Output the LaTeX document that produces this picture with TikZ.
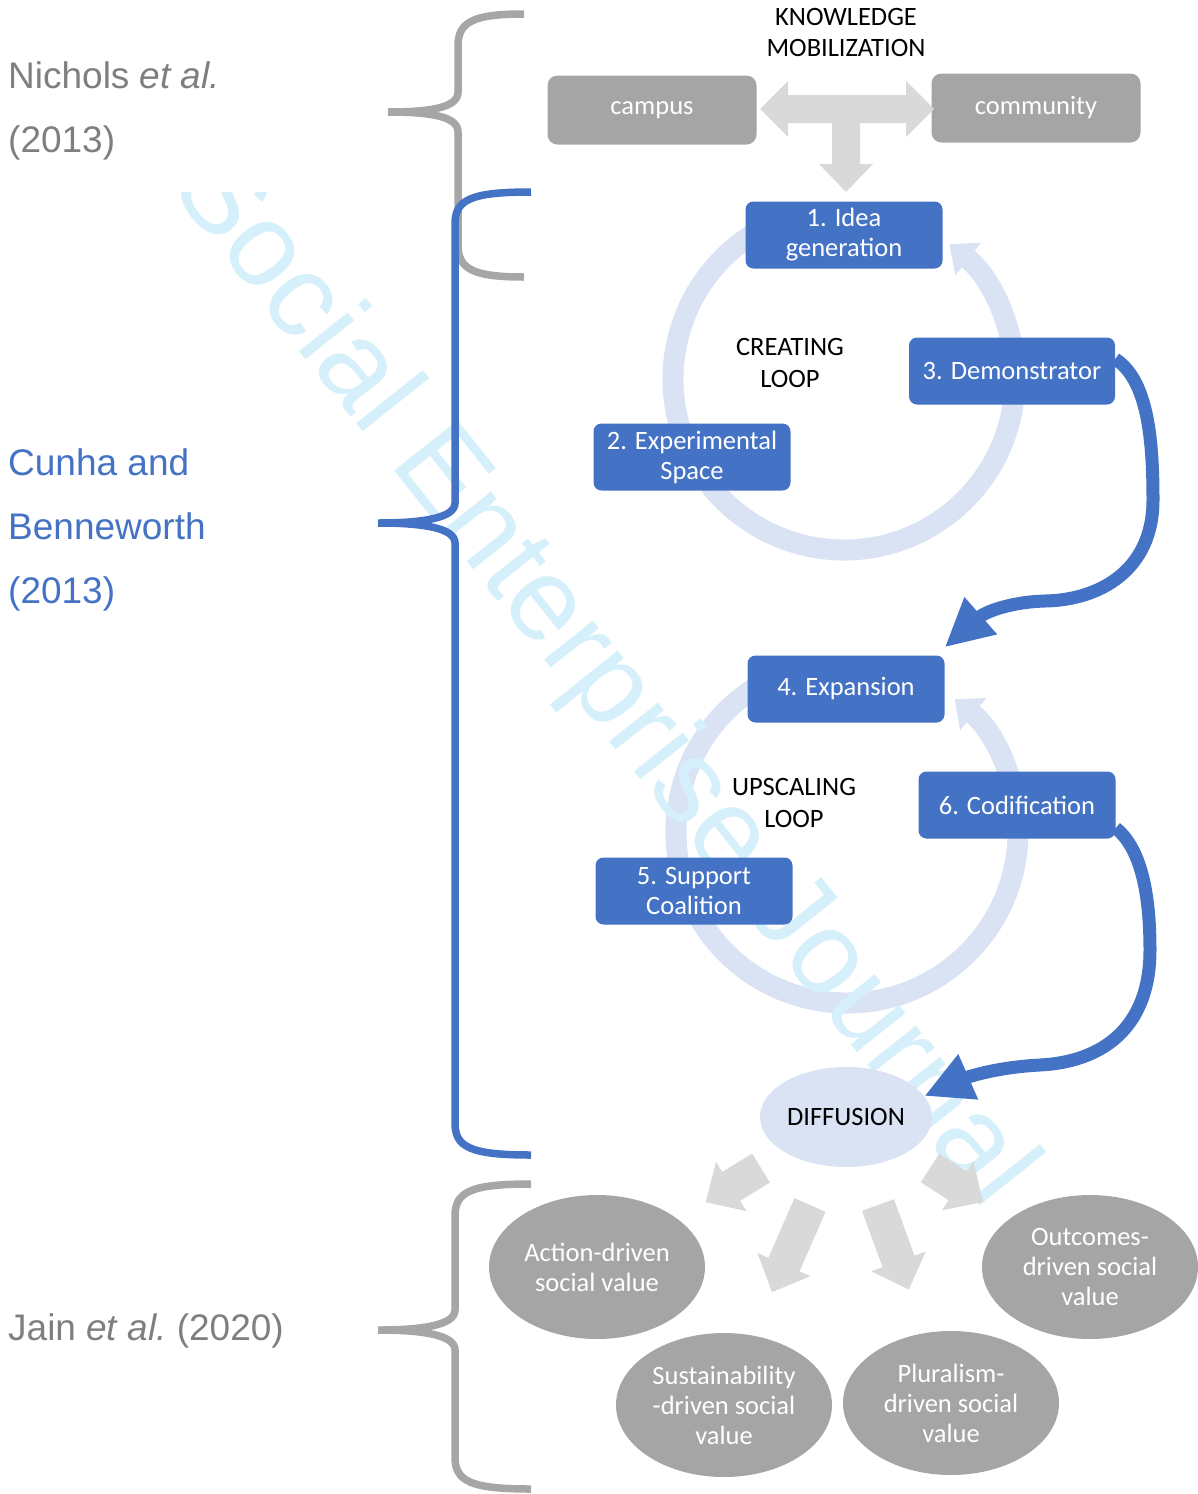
\documentclass[tikz,border=0pt]{standalone}
\usepackage{fontspec}
\setmainfont{Carlito}
\newfontfamily\arialfont{Liberation Sans}
\usepackage{xcolor}
\usetikzlibrary{arrows.meta,shapes.geometric,positioning,calc}

\definecolor{stepblue}{HTML}{4472C4}
\definecolor{stepgray}{HTML}{A5A5A5}
\definecolor{loopblue}{HTML}{DAE3F3}
\definecolor{flowgray}{HTML}{D9D9D9}
\definecolor{bracegray}{HTML}{A6A6A6}
\definecolor{authorgray}{HTML}{7F7F7F}
\definecolor{markcyan}{HTML}{D6F0FB}

% brace: colour, spine x, tip x, end x, top y, cusp y, bottom y
\newcommand{\refbrace}[7]{%
  \draw[#1, line width=7.5pt]
    (#4,#5) .. controls ({#2+15},#5) and (#2,{#5+8}) .. (#2,{#5+32})
    -- (#2,{#6-20}) .. controls (#2,{#6-5}) and ({#3+45},#6) .. (#3,#6)
    (#3,#6) .. controls ({#3+45},#6) and (#2,{#6+5}) .. (#2,{#6+20})
    -- (#2,{#7-32}) .. controls (#2,{#7-8}) and ({#2+15},#7) .. (#4,#7);}

\begin{document}
\begin{tikzpicture}[x=1pt, y=-1pt,
    txt/.style={font=\fontsize{26.5}{30}\selectfont, align=center, inner sep=0},
    stepbox/.style={txt, fill=stepblue, text=white, rounded corners=8pt,
      minimum width=197pt, minimum height=67pt},
    placebox/.style={txt, fill=stepgray, text=white, rounded corners=10pt,
      minimum width=209pt, minimum height=69pt},
    valuebox/.style={txt, ellipse, fill=stepgray, text=white,
      minimum width=216pt, minimum height=144pt},
    author/.style={font=\arialfont\fontsize{37}{64}\selectfont, align=left,
      anchor=west, inner sep=0},
    ring/.style={loopblue, line width=21pt, -{Triangle[width=40pt,length=24pt]}},
    curvearrow/.style={stepblue, line width=13pt, -{Triangle[width=46pt,length=48pt]}}]
    \useasboundingbox (0,0) rectangle (1198,1494);

    % Loop rings (behind the steps)
    \draw[ring] (844,379) ++(-120:171) arc[start angle=-120, end angle=-412, radius=171];
    \draw[ring] (847,832) ++(-120:171) arc[start angle=-120, end angle=-411, radius=171];

    % Watermark
    \begin{scope}
      \clip (0,192) rectangle (1198,1494);
      \node[anchor=base west, rotate=-51.5, text=markcyan, inner sep=0,
        font=\arialfont\fontsize{118}{118}\selectfont] (mark) at (168,186)
        {Social Enterprise Journal};
    \end{scope}

    % Braces and authors
    \refbrace{bracegray}{458}{388}{524}{14}{112}{277}
    \refbrace{bracegray}{455}{378}{531}{1184}{1330}{1489}
    \refbrace{stepblue}{455}{378}{531}{192}{523}{1155}
    \node[author, text=authorgray] (nichols) at (8,111) {Nichols \textit{et al.}\\(2013)};
    \node[author, text=stepblue] (cunha) at (8,530) {Cunha and\\Benneworth\\(2013)};
    \node[author, text=authorgray] (jain) at (8,1331) {Jain \textit{et al.}\ (2020)};

    % Knowledge mobilization
    \node[txt, font=\fontsize{26.5}{31}\selectfont] (kmob) at (846,32) {KNOWLEDGE\\MOBILIZATION};
    \node[placebox] (campus) at (652,110) {campus};
    \node[placebox] (community) at (1036,108) {community};
    \fill[flowgray] (760,109) -- (788,81) -- (788,95) -- (906,95) -- (906,81)
      -- (934,109) -- (906,137) -- (906,123) -- (860,123) -- (860,164)
      -- (873,164) -- (846,192) -- (819,164) -- (832,164) -- (832,123)
      -- (788,123) -- (788,137) -- cycle;

    % Creating loop
    \node[txt, font=\fontsize{26.5}{32}\selectfont] (creating) at (790,363) {CREATING\\LOOP};
    \node[stepbox] (s1) at (844,235) {1. Idea\\generation};
    \node[stepbox] (s2) at (692,457) {2. Experimental\\Space};
    \node[stepbox, minimum width=206pt] (s3) at (1012,371) {3. Demonstrator};

    % Upscaling loop
    \node[txt, font=\fontsize{26.5}{32}\selectfont] (upscaling) at (794,803) {UPSCALING\\LOOP};
    \node[stepbox] (s4) at (846,689) {4. Expansion};
    \node[stepbox] (s5) at (694,891) {5. Support\\Coalition};
    \node[stepbox] (s6) at (1017,805) {6. Codification};

    % Diffusion
    \node[txt, ellipse, fill=loopblue, minimum width=172pt, minimum height=100pt] (dif) at (846,1117) {DIFFUSION};

    % Links between the loops
    \draw[curvearrow] ([yshift=12pt]s3.east) .. controls (1148,380) and (1153,440) .. (1153,500)
      .. controls (1153,570) and (1100,600) .. (1045,601)
      .. controls (1010,602) and (985,612) .. ([yshift=8pt]s4.north east);
    \draw[curvearrow] ([yshift=-23pt]s6.east) .. controls (1143,850) and (1150,900) .. (1150,950)
      .. controls (1150,1030) and (1100,1062) .. (1040,1065)
      .. controls (1000,1067) and (970,1076) .. (dif.15);

    % Social value
    \foreach \x/\y/\a/\l in {761/1168/211.7/65, 810/1205/-113.6/95, 878/1205/-70/90, 930/1168/-32.7/63}
      \fill[flowgray, shift={(\x,\y)}, rotate=\a] (0,-17) -- ({\l-30},-17) -- ({\l-30},-29)
        -- (\l,0) -- ({\l-30},29) -- ({\l-30},17) -- (0,17) -- cycle;
    \node[valuebox] (v1) at (597,1267) {Action-driven\\social value};
    \node[valuebox] (v2) at (1090,1267) {Outcomes-\\driven social\\value};
    \node[valuebox] (v3) at (724,1405) {Sustainability\\-driven social\\value};
    \node[valuebox] (v4) at (951,1403) {Pluralism-\\driven social\\value};
\end{tikzpicture}
\end{document}
